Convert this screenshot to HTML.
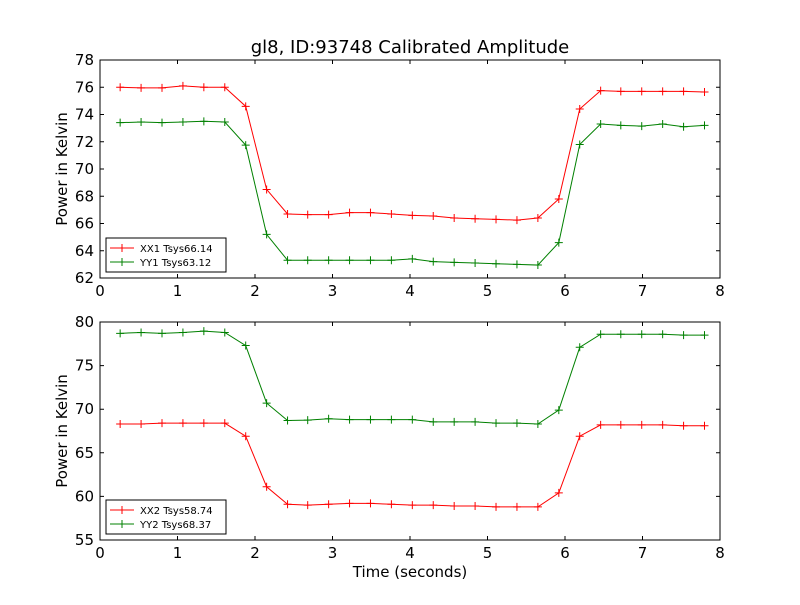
<!DOCTYPE html>
<html><head><meta charset="utf-8"><style>
html,body{margin:0;padding:0;background:#fff}
svg text{font-family:"DejaVu Sans","Liberation Sans",sans-serif}
</style></head><body>
<svg id="c" width="800" height="600" xmlns="http://www.w3.org/2000/svg"></svg>
<script>
const times = [0.26,0.53,0.80,1.07,1.34,1.61,1.88,2.15,2.42,2.68,2.95,3.22,3.49,3.76,4.03,4.30,4.57,4.84,5.11,5.38,5.65,5.92,6.19,6.46,6.72,6.99,7.26,7.53,7.80];
const xx1 = [76.0,75.95,75.95,76.1,76.0,76.0,74.6,68.5,66.7,66.65,66.65,66.8,66.8,66.7,66.6,66.55,66.4,66.35,66.3,66.25,66.4,67.8,74.4,75.75,75.7,75.7,75.7,75.7,75.65];
const yy1 = [73.4,73.45,73.4,73.45,73.5,73.45,71.75,65.2,63.3,63.3,63.3,63.3,63.3,63.3,63.4,63.2,63.15,63.1,63.05,63.0,62.95,64.6,71.8,73.3,73.2,73.15,73.3,73.1,73.2];
const xx2 = [68.3,68.3,68.4,68.4,68.4,68.4,66.9,61.1,59.1,59.0,59.1,59.2,59.2,59.1,59.0,59.0,58.9,58.9,58.8,58.8,58.8,60.4,66.9,68.2,68.2,68.2,68.2,68.1,68.1];
const yy2 = [78.7,78.8,78.7,78.8,78.95,78.8,77.3,70.7,68.7,68.75,68.9,68.8,68.8,68.8,68.8,68.55,68.55,68.55,68.4,68.4,68.3,69.9,77.1,78.6,78.6,78.6,78.6,78.5,78.5];
const xTicks = [0,1,2,3,4,5,6,7,8];
const yTicksTop = [62,64,66,68,70,72,74,76,78];
const yTicksBot = [55,60,65,70,75,80];

const svg=document.getElementById('c');const NS='http://www.w3.org/2000/svg';
function mk(t,a,p,txt){const e=document.createElementNS(NS,t);for(const k in a)e.setAttribute(k,a[k]);if(txt!==undefined)e.textContent=txt;(p||svg).appendChild(e);return e;}
function panel(name,top,bot,ymin,ymax,yticks,series,legend,leg){
  const L=100,R=720;
  const xs=v=>L+(v-0)/(8-0)*(R-L);
  const ys=v=>bot-(v-ymin)/(ymax-ymin)*(bot-top);
  const g=mk('g',{});
  series.forEach(s=>{
    const sg=mk('g',{},g);
    const pts=times.map((t,i)=>xs(t)+','+ys(s.vals[i])).join(' ');
    mk('polyline',{points:pts,fill:'none',stroke:s.color,'stroke-width':1},sg);
    times.forEach((t,i)=>{const x=xs(t),y=ys(s.vals[i]);
      const m=mk('path',{d:`M${x-4},${y}H${x+4}M${x},${y-4}V${y+4}`,stroke:s.color,'stroke-width':1},sg);
      });
  });
  const fr=mk('rect',{x:L,y:top,width:R-L,height:bot-top,fill:'none',stroke:'#000'},g);
  
  xTicks.forEach(v=>{const x=xs(v);
    mk('path',{d:`M${x},${bot}v-4M${x},${top}v4`,stroke:'#000'},g);
    const t=mk('text',{x:x,y:bot+18,'font-size':15,'text-anchor':'middle'},g,v);
    });
  yticks.forEach(v=>{const y=ys(v);
    mk('path',{d:`M${L},${y}h4M${R},${y}h-4`,stroke:'#000'},g);
    const t=mk('text',{x:L-6,y:y+5,'font-size':15,'text-anchor':'end'},g,v);
    });
  const yt=mk('text',{x:0,y:0,'font-size':15,'text-anchor':'middle',transform:`translate(67,${(top+bot)/2}) rotate(-90)`},g,'Power in Kelvin');
  
  const lg=mk('g',{},g);
  mk('rect',{x:106,y:leg,width:120,height:34,fill:'#fff',stroke:'#000'},lg);
  series.forEach((s,i)=>{const y=leg+10+i*14;
    const e=mk('g',{},lg);
    mk('path',{d:`M110,${y}h24M122,${y-4}v8`,stroke:s.color},e);
    mk('text',{x:140,y:y+4,'font-size':10},e,legend[i]);});
}
const tt=mk('text',{x:410,y:53,'font-size':18,'text-anchor':'middle'},svg,'gl8, ID:93748 Calibrated Amplitude');

panel('top-panel',60,278,62,78,yTicksTop,[{name:'series-xx1',vals:xx1,color:'#ff0000'},{name:'series-yy1',vals:yy1,color:'#008000'}],['XX1 Tsys66.14','YY1 Tsys63.12'],238);
panel('bottom-panel',322,540,55,80,yTicksBot,[{name:'series-xx2',vals:xx2,color:'#ff0000'},{name:'series-yy2',vals:yy2,color:'#008000'}],['XX2 Tsys58.74','YY2 Tsys68.37'],500);
const xt=mk('text',{x:410,y:577,'font-size':15,'text-anchor':'middle'},svg,'Time (seconds)');

</script>
</body></html>
